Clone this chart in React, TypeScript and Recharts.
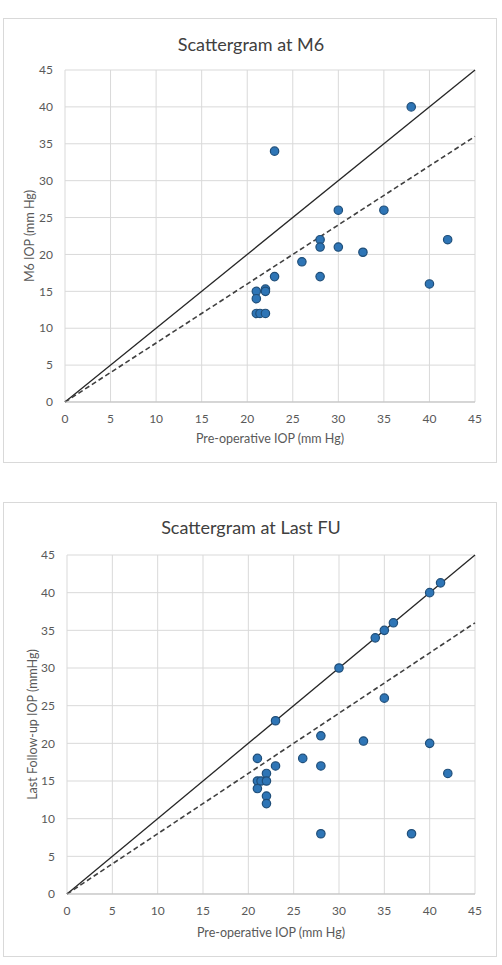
import React from 'react';
import {
  ScatterChart,
  Scatter,
  XAxis,
  YAxis,
  CartesianGrid,
  ReferenceLine,
} from 'recharts';

// pre-operative IOP vs IOP at month 6
const m6Pre = [38, 23, 30, 35, 42, 28, 28, 30, 32.7, 26, 23, 28, 21, 22, 22, 21, 21, 21.4, 22, 40];
const m6Iop = [40, 34, 26, 26, 22, 22, 21, 21, 20.3, 19, 17, 17, 15, 15.3, 15, 14, 12, 12, 12, 16];

// pre-operative IOP vs IOP at last follow-up
const lastPre = [41.2, 40, 36, 35, 34, 30, 35, 23, 28, 32.7, 40, 21, 26, 23, 28, 22, 42, 21, 21.4, 22, 21, 22, 22, 28, 38];
const lastIop = [41.3, 40, 36, 35, 34, 30, 26, 23, 21, 20.3, 20, 18, 18, 17, 17, 16, 16, 15, 15, 15, 14, 13, 12, 8, 8];

const axisTicks = [0, 5, 10, 15, 20, 25, 30, 35, 40, 45];
const identityLine = [{ x: 0, y: 0 }, { x: 45, y: 45 }];
const reductionLine = [{ x: 0, y: 0 }, { x: 45, y: 36 }];

const FONT = 'Lato, "Open Sans", sans-serif';
const TEXT = '#595959';
const GRID = '#d9d9d9';

type PanelProps = {
  title: string;
  yLabel: string;
  pre: number[];
  iop: number[];
  top: number;
  height: number;
  plotTop: number;
  xAxisHeight: number;
  yAxisWidth: number;
  yLabelX: number;
  xLabelDy: number;
  titleY: number;
};

function Dot(props: any) {
  const { cx, cy } = props;
  if (cx == null || cy == null) return null;
  return <circle cx={cx} cy={cy} r={4.2} fill="#2e75b6" stroke="#1f4e79" strokeWidth={1.2} />;
}

function ScatterPanel({ title, yLabel, pre, iop, top, height, plotTop, xAxisHeight, yAxisWidth, yLabelX, xLabelDy, titleY }: PanelProps) {
  const data = pre.map((x, i) => ({ x, y: iop[i] }));
  return (
    <div
      style={{
        position: 'absolute',
        left: 3,
        top,
        width: 494,
        height,
        border: `1px solid ${GRID}`,
        boxSizing: 'border-box',
        background: '#fff',
      }}
    >
      <div
        style={{
          position: 'absolute',
          left: 0,
          width: 494,
          top: titleY - 12,
          textAlign: 'center',
          fontFamily: FONT,
          fontSize: 18,
          color: '#404040',
          lineHeight: '24px',
        }}
      >
        {title}
      </div>
      <ScatterChart
        width={494}
        height={height}
        margin={{ top: plotTop, right: 22, left: 0, bottom: 0 }}
        style={{ position: 'absolute', left: -1, top: -1 }}
      >
        <CartesianGrid stroke={GRID} strokeWidth={1} />
        <XAxis
          type="number"
          dataKey="x"
          domain={[0, 45]}
          ticks={axisTicks}
          interval={0}
          axisLine={{ stroke: '#bfbfbf' }}
          tickLine={false}
          tickMargin={6}
          height={xAxisHeight}
          tick={{ fontSize: 12, fill: TEXT, fontFamily: FONT }}
          label={{
            content: (p: any) => {
              const vb = p.viewBox || {};
              return (
                <text
                  x={vb.x + vb.width / 2}
                  y={vb.y + xLabelDy}
                  textAnchor="middle"
                  dominantBaseline="central"
                  fontSize={12.5}
                  fontFamily={FONT}
                  fill={TEXT}
                >
                  Pre-operative IOP (mm Hg)
                </text>
              );
            },
          }}
        />
        <YAxis
          type="number"
          dataKey="y"
          domain={[0, 45]}
          ticks={axisTicks}
          interval={0}
          axisLine={false}
          tickLine={false}
          tickMargin={6}
          width={yAxisWidth}
          tick={{ fontSize: 12, fill: TEXT, fontFamily: FONT }}
          label={{
            content: (p: any) => {
              const vb = p.viewBox || {};
              const cy = vb.y + vb.height / 2;
              return (
                <text
                  x={yLabelX}
                  y={cy}
                  textAnchor="middle"
                  dominantBaseline="central"
                  transform={`rotate(-90 ${yLabelX} ${cy})`}
                  fontSize={12.5}
                  fontFamily={FONT}
                  fill={TEXT}
                >
                  {yLabel}
                </text>
              );
            },
          }}
        />
        <ReferenceLine segment={identityLine} stroke="#262626" strokeWidth={1.3} />
        <ReferenceLine segment={reductionLine} stroke="#404040" strokeWidth={1.6} strokeDasharray="5 3" />
        <Scatter data={data} shape={<Dot />} isAnimationActive={false} />
      </ScatterChart>
    </div>
  );
}

export default function App() {
  return (
    <div style={{ position: 'absolute', left: 0, top: 0, width: 502, height: 965, background: '#fff' }}>
      <ScatterPanel
        title="Scattergram at M6"
        yLabel="M6 IOP (mm Hg)"
        pre={m6Pre}
        iop={m6Iop}
        top={18}
        height={445}
        plotTop={52}
        xAxisHeight={61}
        yAxisWidth={62}
        yLabelX={26}
        xLabelDy={36}
        titleY={25}
      />
      <ScatterPanel
        title="Scattergram at Last FU"
        yLabel="Last Follow-up IOP (mmHg)"
        pre={lastPre}
        iop={lastIop}
        top={502}
        height={455}
        plotTop={53}
        xAxisHeight={63}
        yAxisWidth={64}
        yLabelX={29}
        xLabelDy={38}
        titleY={24}
      />
    </div>
  );
}
